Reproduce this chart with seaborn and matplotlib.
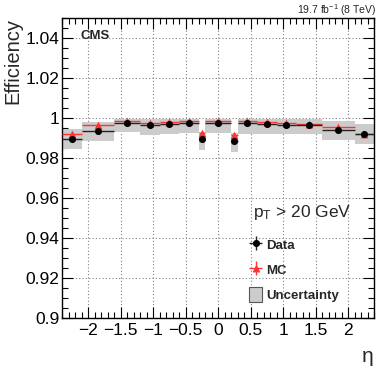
import matplotlib
matplotlib.use("Agg")
import matplotlib.pyplot as plt
from matplotlib.patches import Patch
from matplotlib.ticker import MultipleLocator, FuncFormatter
import seaborn as sns
import numpy as np
import pandas as pd

# eta binning and efficiencies
eta_edges = [-2.4, -2.1, -1.6, -1.2, -0.9, -0.6, -0.3, -0.2, 0.2, 0.3, 0.6, 0.9, 1.2, 1.6, 2.1, 2.4]
eff_data = [0.9895, 0.9934, 0.9975, 0.9966, 0.9970, 0.9974, 0.9893, 0.9976, 0.9886, 0.9975, 0.9968, 0.9967, 0.9966, 0.9938, 0.9920]
eff_mc = [0.9922, 0.9967, 0.9984, 0.9975, 0.9979, 0.9983, 0.9923, 0.9984, 0.9913, 0.9985, 0.9978, 0.9975, 0.9970, 0.9954, 0.9919]
unc_low = [0.9847, 0.9885, 0.9930, 0.9914, 0.9920, 0.9924, 0.9840, 0.9924, 0.9832, 0.9921, 0.9918, 0.9920, 0.9921, 0.9888, 0.9872]
unc_high = [0.9947, 0.9980, 0.9997, 0.9993, 0.9993, 0.9997, 0.9932, 0.9996, 0.9923, 0.9997, 0.9995, 0.9994, 0.9995, 0.9985, 0.9970]

edges = np.array(eta_edges)
df = pd.DataFrame({"lo": edges[:-1], "hi": edges[1:], "data": eff_data, "mc": eff_mc,
                   "unc_lo": unc_low, "unc_hi": unc_high})
df["eta"] = (df["lo"] + df["hi"]) / 2
df["half"] = (df["hi"] - df["lo"]) / 2

sns.set_theme(style="ticks")
plt.rcParams["font.family"] = ["Liberation Sans", "DejaVu Sans"]
plt.rcParams["mathtext.fontset"] = "custom"
plt.rcParams["mathtext.rm"] = "Liberation Sans"
plt.rcParams["mathtext.it"] = "Liberation Sans:italic"

red = "#ff3333"
band = "#cccccc"

fig = plt.figure(figsize=(3.9, 3.74), dpi=100)
ax = fig.add_axes([0.159, 0.150, 0.800, 0.802])

# uncertainty band
ax.bar(df["lo"], df["unc_hi"] - df["unc_lo"], bottom=df["unc_lo"], width=df["hi"] - df["lo"],
       align="edge", color=band, linewidth=0, zorder=1)

# MC
eb_mc = ax.errorbar(df["eta"], df["mc"], xerr=df["half"], yerr=0.0004, fmt="none",
                    ecolor=red, elinewidth=1.0, capsize=0, zorder=3)
sns.scatterplot(data=df, x="eta", y="mc", marker="^", color=red, s=32, linewidth=0, ax=ax, zorder=4)
sc_mc = ax.collections[-1]

# Data
eb_data = ax.errorbar(df["eta"], df["data"], xerr=df["half"], yerr=0.0004, fmt="none",
                      ecolor="#222222", elinewidth=1.0, capsize=0, zorder=5)
sns.scatterplot(data=df, x="eta", y="data", marker="o", color="black", s=26, linewidth=0, ax=ax, zorder=6)
sc_data = ax.collections[-1]

ax.set_xlim(-2.4, 2.4)
ax.set_ylim(0.9, 1.05)
ax.xaxis.set_major_locator(MultipleLocator(0.5))
ax.xaxis.set_minor_locator(MultipleLocator(0.1))
ax.yaxis.set_major_locator(MultipleLocator(0.02))
ax.yaxis.set_minor_locator(MultipleLocator(0.005))
fmt = FuncFormatter(lambda v, p: ("%g" % round(v, 4)).replace("-", "\u2212"))
ax.xaxis.set_major_formatter(fmt)
ax.yaxis.set_major_formatter(fmt)
ax.tick_params(which="both", direction="in", top=True, right=True, width=0.8, colors="black",
               labelsize=12.5)
ax.tick_params(which="major", length=8)
ax.tick_params(which="minor", length=4)
ax.tick_params(axis="x", pad=4)
ax.tick_params(axis="y", pad=2)
for s in ax.spines.values():
    s.set_color("black")
    s.set_linewidth(1.0)

ax.set_axisbelow(True)
ax.grid(True, which="major", linestyle=(0, (1, 2)), color="#808080", linewidth=0.8)

ax.set_ylabel("Efficiency", loc="top", fontsize=14.5, labelpad=2)
ax.set_xlabel("\u03b7", loc="right", fontsize=15, labelpad=6)

ax.text(0.058, 0.94, "CMS", transform=ax.transAxes, fontsize=9.5, fontweight="bold", va="center", ha="left")
fig.text(0.964, 0.973, "19.7 fb$^{-1}$ (8 TeV)", fontsize=7.5, ha="right", va="center")
ax.text(0.611, 0.337, r"p$_{\mathrm{T}}$ > 20 GeV", transform=ax.transAxes, fontsize=12.5, ha="left", va="baseline")

handles = [(eb_data, sc_data), (eb_mc, sc_mc), Patch(facecolor=band, edgecolor="#555555", linewidth=0.8)]
ax.legend(handles, ["Data", "MC", "Uncertainty"], loc="upper left", bbox_to_anchor=(0.6, 0.27),
          frameon=False, prop={"weight": "bold", "size": 9.5}, handlelength=1.0, handleheight=1.4,
          handletextpad=0.3, labelspacing=0.75, borderaxespad=0, borderpad=0)

fig.savefig("out.png", dpi=100)
